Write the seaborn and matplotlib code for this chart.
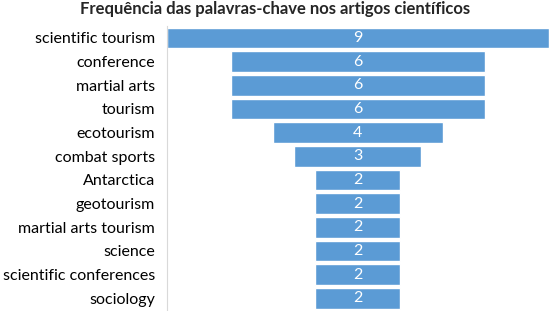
import pandas as pd
import seaborn as sns
import matplotlib.pyplot as plt

keywords = ['scientific tourism', 'conference', 'martial arts', 'tourism', 'ecotourism',
            'combat sports', 'Antarctica', 'geotourism', 'martial arts tourism', 'science',
            'scientific conferences', 'sociology']
counts = [9, 6, 6, 6, 4, 3, 2, 2, 2, 2, 2, 2]

df = pd.DataFrame({'keyword': keywords, 'count': counts})

sns.set_style('white')
plt.rcParams['font.family'] = ['Lato', 'DejaVu Sans']

fig = plt.figure(figsize=(5.5, 3.11), dpi=100)
ax = fig.add_axes([0.3036, 0.003, 0.694, 0.913])

sns.barplot(data=df, x='count', y='keyword', color='#5B9BD5', saturation=1,
            width=0.88, orient='h', ax=ax)

# center each bar to make it a funnel
top = max(counts)
for patch, v in zip(ax.patches, counts):
    patch.set_x((top - v) / 2)
    ax.text(top / 2, patch.get_y() + patch.get_height() / 2, str(v),
            ha='center', va='center', color='white', fontsize=11.5)

ax.set_xlim(0, top)
ax.set_ylim(len(keywords) - 0.5, -0.5)
ax.set_xlabel('')
ax.set_ylabel('')
ax.set_xticks([])
ax.tick_params(axis='y', length=0, labelsize=11.5, labelcolor='#000000', pad=8.5)
for s in ['top', 'right', 'bottom']:
    ax.spines[s].set_visible(False)
ax.spines['left'].set_color('#D9D9D9')
ax.spines['left'].set_linewidth(0.8)

fig.suptitle('Frequência das palavras-chave nos artigos científicos',
             fontsize=12, fontweight='bold', x=0.5, y=0.997)

fig.savefig('out.png', dpi=100)
